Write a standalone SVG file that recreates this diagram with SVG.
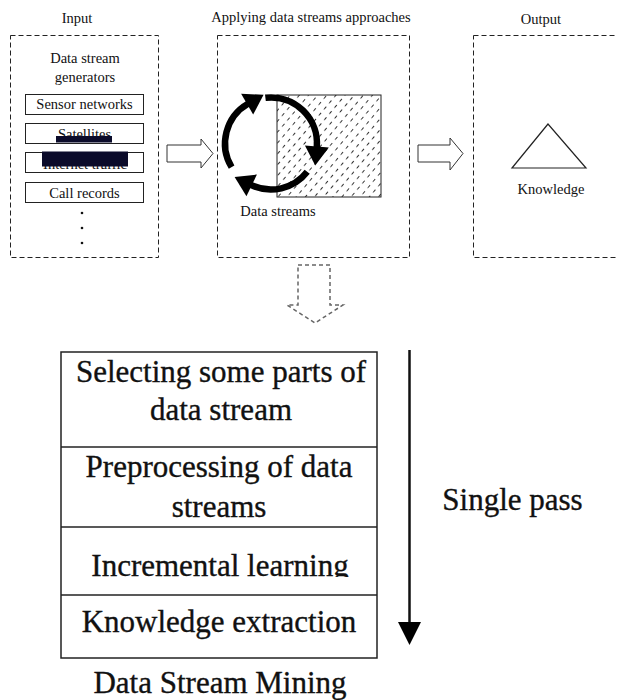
<svg xmlns="http://www.w3.org/2000/svg" width="617" height="700" viewBox="0 0 617 700">
<style>
text{font-family:"Liberation Serif","DejaVu Serif",serif;fill:#111}
.s{font-size:14.5px}
.b{font-size:31px;stroke:#111;stroke-width:0.35}
.frame{fill:none;stroke:#222;stroke-width:1;stroke-dasharray:5 3}
.box{fill:#fff;stroke:#222;stroke-width:1}
.hollow{fill:#fff;stroke:#333;stroke-width:1}
.cell{fill:none;stroke:#222;stroke-width:1.5}
.arc{fill:none;stroke:#000;stroke-width:6.5}
.mask{fill:#0b0b2a}
</style>
<defs>
<marker id="head" markerUnits="userSpaceOnUse" markerWidth="22" markerHeight="26" refX="1" refY="12" orient="auto" overflow="visible">
<path d="M0,0 L19,12 L0,24 z" fill="#000"/>
</marker>
<pattern id="hatch" patternUnits="userSpaceOnUse" width="7" height="8" patternTransform="rotate(40)">
<line x1="3.5" y1="0" x2="3.5" y2="8" stroke="#333" stroke-width="1" stroke-dasharray="3.5 4.5"/>
</pattern>
<clipPath id="clipInc"><rect x="60" y="527" width="320" height="50"/></clipPath>
</defs>

<g font-family="'Liberation Serif', 'DejaVu Serif', serif">
<g id="input">
<text class="s" x="77" y="23" text-anchor="middle">Input</text>
<rect class="frame" x="10.5" y="35.5" width="148" height="222"/>
<text class="s" x="85" y="63" text-anchor="middle">Data stream</text>
<text class="s" x="85" y="82" text-anchor="middle">generators</text>
<rect class="box" x="25.5" y="94.5" width="118" height="20"/>
<text class="s" x="84.5" y="109" text-anchor="middle">Sensor networks</text>
<rect class="box" x="25.5" y="123.5" width="118" height="20"/>
<text class="s" x="84.5" y="139" text-anchor="middle">Satellites</text>
<rect class="mask" x="56" y="136" width="56" height="6.5"/>
<rect class="box" x="25.5" y="152.5" width="118" height="20"/>
<text class="s" x="85" y="168.5" text-anchor="middle">Internet traffic</text>
<rect class="mask" x="42" y="151.5" width="86" height="15"/>
<rect class="box" x="25.5" y="182.5" width="118" height="20"/>
<text class="s" x="84.5" y="198" text-anchor="middle">Call records</text>
<circle cx="82" cy="213" r="1.3" fill="#111"/>
<circle cx="82" cy="228" r="1.3" fill="#111"/>
<circle cx="82" cy="243" r="1.3" fill="#111"/>
</g>

<g id="apply">
<text class="s" x="311" y="22" text-anchor="middle">Applying data streams approaches</text>
<rect class="frame" x="217.5" y="35.5" width="192" height="222"/>
<rect x="277" y="95" width="104" height="102" fill="url(#hatch)" stroke="#222" stroke-width="1"/>
<path class="arc" d="M231.6,167.2 A46,46 0 0 1 248,103.7" marker-end="url(#head)"/>
<path class="arc" d="M265.4,97.8 A46,46 0 0 1 316.8,147.5" marker-end="url(#head)"/>
<path class="arc" d="M307.2,171.8 A46,46 0 0 1 250.8,184.9" marker-end="url(#head)"/>
<text class="s" x="278" y="216" text-anchor="middle">Data streams</text>
</g>

<g id="output">
<text class="s" x="541" y="24" text-anchor="middle">Output</text>
<rect class="frame" x="473.5" y="35.5" width="160" height="222"/>
<path d="M548,124 L512,168 L586,168 Z" fill="none" stroke="#222" stroke-width="1.2"/>
<text class="s" x="551" y="194" text-anchor="middle">Knowledge</text>
</g>

<g id="table">
<rect class="cell" x="61" y="352" width="316" height="306"/>
<line class="cell" x1="61" y1="447" x2="377" y2="447"/>
<line class="cell" x1="61" y1="527" x2="377" y2="527"/>
<line class="cell" x1="61" y1="595" x2="377" y2="595"/>
<text class="b" x="221" y="382" text-anchor="middle">Selecting some parts of</text>
<text class="b" x="221" y="420" text-anchor="middle">data stream</text>
<text class="b" x="219" y="477" text-anchor="middle">Preprocessing of data</text>
<text class="b" x="219" y="517" text-anchor="middle">streams</text>
<text class="b" x="220" y="576" text-anchor="middle" clip-path="url(#clipInc)">Incremental learning</text>
<text class="b" x="219" y="632" text-anchor="middle">Knowledge extraction</text>
<text class="b" x="220" y="693" text-anchor="middle">Data Stream Mining</text>
<text class="b" x="512.5" y="510" text-anchor="middle">Single pass</text>
</g>
</g>

<g id="connectors">
<polygon class="hollow" points="167,145 201,145 201,139 213,153.5 201,168 201,162 167,162"/>
<polygon class="hollow" points="418,145 450,145 450,138 463,153.5 450,170 450,162 418,162"/>
<polygon points="298,265 330,265 330,305 343,305 315,323 287,305 298,305" fill="none" stroke="#666" stroke-width="1.5" stroke-dasharray="4 3"/>
<line x1="409.5" y1="350" x2="409.5" y2="624" stroke="#111" stroke-width="2.5"/>
<polygon points="398,622 421,622 409.5,645" fill="#000"/>
</g>
</svg>
